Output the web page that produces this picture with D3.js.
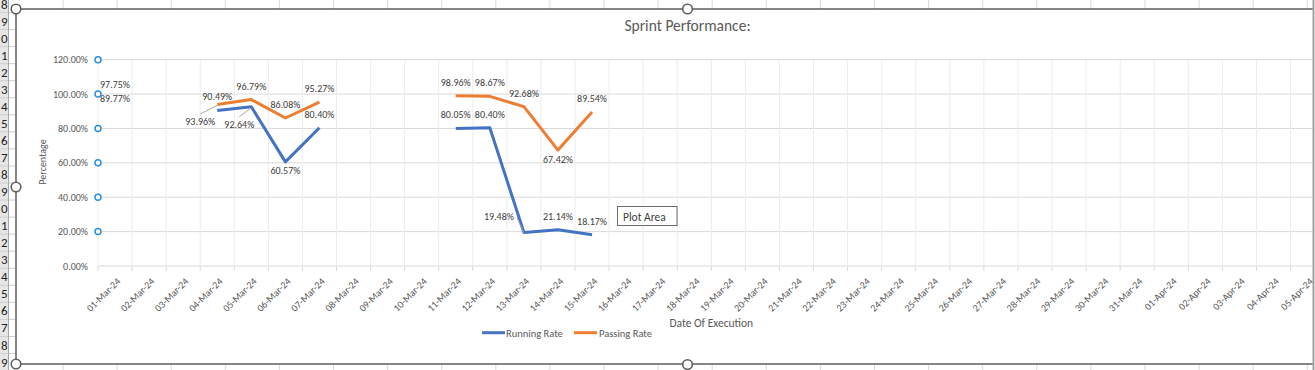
<!DOCTYPE html>
<html>
<head>
<meta charset="utf-8">
<script src="https://cdn.jsdelivr.net/npm/d3@7"></script>
<style>
  body { margin: 0; background: #fff; }
  svg { display: block; font-family: Calibri, Carlito, Lato, "Open Sans", sans-serif; }
</style>
</head>
<body>
<svg id="chart" width="1315" height="370"></svg>
<script>
// chart data
const categories = [
  "01-Mar-24", "02-Mar-24", "03-Mar-24", "04-Mar-24", "05-Mar-24", "06-Mar-24",
  "07-Mar-24", "08-Mar-24", "09-Mar-24", "10-Mar-24", "11-Mar-24", "12-Mar-24",
  "13-Mar-24", "14-Mar-24", "15-Mar-24", "16-Mar-24", "17-Mar-24", "18-Mar-24",
  "19-Mar-24", "20-Mar-24", "21-Mar-24", "22-Mar-24", "23-Mar-24", "24-Mar-24",
  "25-Mar-24", "26-Mar-24", "27-Mar-24", "28-Mar-24", "29-Mar-24", "30-Mar-24",
  "31-Mar-24", "01-Apr-24", "02-Apr-24", "03-Apr-24", "04-Apr-24", "05-Apr-24"
];
const runDates = ["01-Mar-24", "04-Mar-24", "05-Mar-24", "06-Mar-24", "07-Mar-24",
  "11-Mar-24", "12-Mar-24", "13-Mar-24", "14-Mar-24", "15-Mar-24"];
const runningRate = [89.77, 90.49, 92.64, 60.57, 80.40, 80.05, 80.40, 19.48, 21.14, 18.17];
const passingRate = [97.75, 93.96, 96.79, 86.08, 95.27, 98.96, 98.67, 92.68, 67.42, 89.54];
const yTicks = [0, 20, 40, 60, 80, 100, 120];
const seriesNames = ["Running Rate", "Passing Rate"];

const svg = document.getElementById("chart");
const root = d3.select(svg);
root.selectAll("*").remove();

// layout
const plotLeft = 98;
const plotRight = 1324.6;
const plotTop = 59.7;
const plotBottom = 266;
const winEdge = 1313;
const colors = ["#4472C4", "#ED7D31"];
const textColor = "#595959";

const x = d3.scaleBand().domain(categories).range([plotLeft, plotRight]);
const y = d3.scaleLinear().domain([0, 120]).range([plotBottom, plotTop]);
const cx = d => x(d) + x.bandwidth() / 2;

// labels that Excel had moved by hand (dx, dy from the default spot)
const labelMoves = {
  "0|05-Mar-24": { dx: -12, dy: 21, leader: true },
  "0|06-Mar-24": { dx: 0, dy: 12.5 },
  "0|13-Mar-24": { dx: -25, dy: -12.5, leader: true },
  "1|04-Mar-24": { dx: -17, dy: 20.5, leader: true },
  "1|14-Mar-24": { dx: 0, dy: 12.5 }
};

root.append("defs").append("clipPath").attr("id", "win")
  .append("rect").attr("x", 0).attr("y", 0).attr("width", winEdge).attr("height", 370);

const g = root.append("g").attr("clip-path", "url(#win)");

/*
  spreadsheet behind the chart
*/
function drawSheet() {
  const rowH = 17.05;
  const colXs = d3.range(63, 1315, 54.1);
  // column lines peeking above and below the chart
  g.selectAll(".colTop").data(colXs).join("line")
    .attr("x1", d => d).attr("x2", d => d).attr("y1", 0).attr("y2", 370)
    .attr("stroke", "#dadada");
  // row header strip
  g.append("rect").attr("x", 0).attr("y", 0).attr("width", 8.5).attr("height", 370)
    .attr("fill", "#e6e6e6");
  const rows = d3.range(0, 22);
  g.selectAll(".rowLine").data(rows).join("line")
    .attr("x1", 0).attr("x2", 16).attr("y1", d => 12.5 + d * rowH).attr("y2", d => 12.5 + d * rowH)
    .attr("stroke", "#cfcfcf");
  g.append("line").attr("x1", 8.5).attr("x2", 8.5).attr("y1", 0).attr("y2", 370)
    .attr("stroke", "#a9a9a9");
  g.selectAll(".rowNum").data(rows).join("text")
    .attr("x", 7.5).attr("y", d => 8.5 + d * rowH)
    .attr("text-anchor", "end")
    .style("font-family", "Calibri, Carlito, 'Liberation Sans', sans-serif")
    .style("font-size", "13px").attr("fill", "#222")
    .text(d => String((18 + d) % 10));
}

/*
  chart frame
*/
function drawFrame() {
  g.append("rect").attr("x", 16).attr("y", 9).attr("width", 1343).attr("height", 355)
    .attr("fill", "#fff").attr("stroke", "#5f5f5f").attr("stroke-width", 1.5);
}

function drawGrid() {
  // horizontal gridlines
  g.selectAll(".hgrid").data(yTicks).join("line")
    .attr("x1", plotLeft).attr("x2", plotRight)
    .attr("y1", d => y(d)).attr("y2", d => y(d))
    .attr("stroke", "#d9d9d9").attr("stroke-width", 1);
  // vertical gridlines at category edges
  const edges = categories.map(d => x(d)).concat([plotRight]);
  g.selectAll(".vgrid").data(edges).join("line")
    .attr("x1", d => d).attr("x2", d => d)
    .attr("y1", plotTop).attr("y2", plotBottom)
    .attr("stroke", "#ececec").attr("stroke-width", 1);
  // x axis ticks
  g.selectAll(".xtick").data(edges).join("line")
    .attr("x1", d => d).attr("x2", d => d)
    .attr("y1", plotBottom).attr("y2", plotBottom + 5)
    .attr("stroke", "#d9d9d9");
}

function drawAxes() {
  // y tick labels
  g.selectAll(".ylab").data(yTicks).join("text")
    .attr("x", 88).attr("y", d => y(d) + 3.5)
    .attr("text-anchor", "end")
    .style("font-size", "10px").attr("fill", textColor)
    .text(d => d.toFixed(2) + "%");
  // x tick labels, rotated
  g.selectAll(".xlab").data(categories).join("text")
    .attr("text-anchor", "end")
    .attr("transform", d => `translate(${cx(d) + 6},${plotBottom + 16}) rotate(-45)`)
    .style("font-size", "10px").attr("fill", textColor)
    .text(d => d);
  // axis titles
  g.append("text")
    .attr("transform", "translate(46,162) rotate(-90)")
    .attr("text-anchor", "middle")
    .style("font-size", "10px").attr("fill", textColor)
    .text("Percentage");
  g.append("text")
    .attr("x", (plotLeft + plotRight) / 2).attr("y", 326.5)
    .attr("text-anchor", "middle")
    .style("font-size", "11.5px").attr("fill", textColor)
    .text("Date Of Execution");
  g.append("text")
    .attr("x", 687.5).attr("y", 31)
    .attr("text-anchor", "middle")
    .style("font-size", "15.5px").attr("fill", textColor)
    .text("Sprint Performance:");
}

function seriesFor(values) {
  const byDate = new Map(runDates.map((d, i) => [d, values[i]]));
  return categories.map(d => ({ date: d, value: byDate.has(d) ? byDate.get(d) : null }));
}

function drawSeries() {
  const all = [runningRate, passingRate].map(seriesFor);
  const line = d3.line()
    .defined(d => d.value !== null)
    .x(d => cx(d.date))
    .y(d => y(d.value));

  g.selectAll(".series").data(all).join("path")
    .attr("d", line)
    .attr("fill", "none")
    .attr("stroke", (d, i) => colors[i])
    .attr("stroke-width", 3)
    .attr("stroke-linejoin", "round");

  // data labels
  const labels = [];
  all.forEach((s, si) => {
    s.filter(p => p.value !== null).forEach(p => {
      const mv = labelMoves[si + "|" + p.date] || { dx: 0, dy: -10 };
      labels.push({
        px: cx(p.date), py: y(p.value),
        lx: cx(p.date) + mv.dx, ly: y(p.value) + mv.dy,
        leader: mv.leader, text: p.value.toFixed(2) + "%"
      });
    });
  });

  // leader lines for moved labels
  g.selectAll(".leader").data(labels.filter(d => d.leader)).join("line")
    .attr("x1", d => d.ly > d.py ? d.lx : d.lx + 18)
    .attr("y1", d => d.ly > d.py ? d.ly - 11 : d.ly - 3)
    .attr("x2", d => d.px).attr("y2", d => d.py + 1)
    .attr("stroke", "#a6a6a6").attr("stroke-width", 1);

  g.selectAll(".dlab").data(labels).join("text")
    .attr("x", d => d.lx).attr("y", d => d.ly)
    .attr("text-anchor", "middle")
    .style("font-size", "10px").attr("fill", "#404040")
    .text(d => d.text);
}

function drawLegend() {
  const items = [{ x: 482, tx: 506 }, { x: 574, tx: 599 }];
  const lg = g.selectAll(".legend").data(seriesNames).join("g");
  lg.append("line")
    .attr("x1", (d, i) => items[i].x).attr("x2", (d, i) => items[i].x + 23)
    .attr("y1", 332.7).attr("y2", 332.7)
    .attr("stroke", (d, i) => colors[i]).attr("stroke-width", 3);
  lg.append("text")
    .attr("x", (d, i) => items[i].tx).attr("y", 336.5)
    .style("font-size", "10.5px").attr("fill", textColor)
    .text(d => d);
}

// selection bits Excel left on the picture
function drawSelection() {
  g.selectAll(".axisHandle").data(yTicks.filter(t => t > 0)).join("circle")
    .attr("cx", plotLeft).attr("cy", d => y(d)).attr("r", 3)
    .attr("fill", "#fff").attr("stroke", "#2f8fe0").attr("stroke-width", 1.5);

  const handles = [[16, 9], [16, 187], [16, 364], [687.5, 9], [687.5, 364.5]];
  g.selectAll(".handle").data(handles).join("circle")
    .attr("cx", d => d[0]).attr("cy", d => d[1]).attr("r", 4.8)
    .attr("fill", "#fff").attr("stroke", "#5f5f5f").attr("stroke-width", 1.6);

  // hover tooltip
  g.append("rect").attr("x", 617.5).attr("y", 206.5).attr("width", 59.5).attr("height", 19)
    .attr("fill", "#fff").attr("stroke", "#6b6b6b");
  g.append("text").attr("x", 623).attr("y", 220.5)
    .style("font-size", "11.5px").attr("fill", "#404040")
    .text("Plot Area");
}

drawSheet();
drawFrame();
drawGrid();
drawAxes();
drawSeries();
drawLegend();
drawSelection();

// window edge
root.append("line").attr("x1", winEdge + 0.5).attr("x2", winEdge + 0.5)
  .attr("y1", 0).attr("y2", 370).attr("stroke", "#a0a0a0").attr("stroke-width", 2);
</script>
</body>
</html>
